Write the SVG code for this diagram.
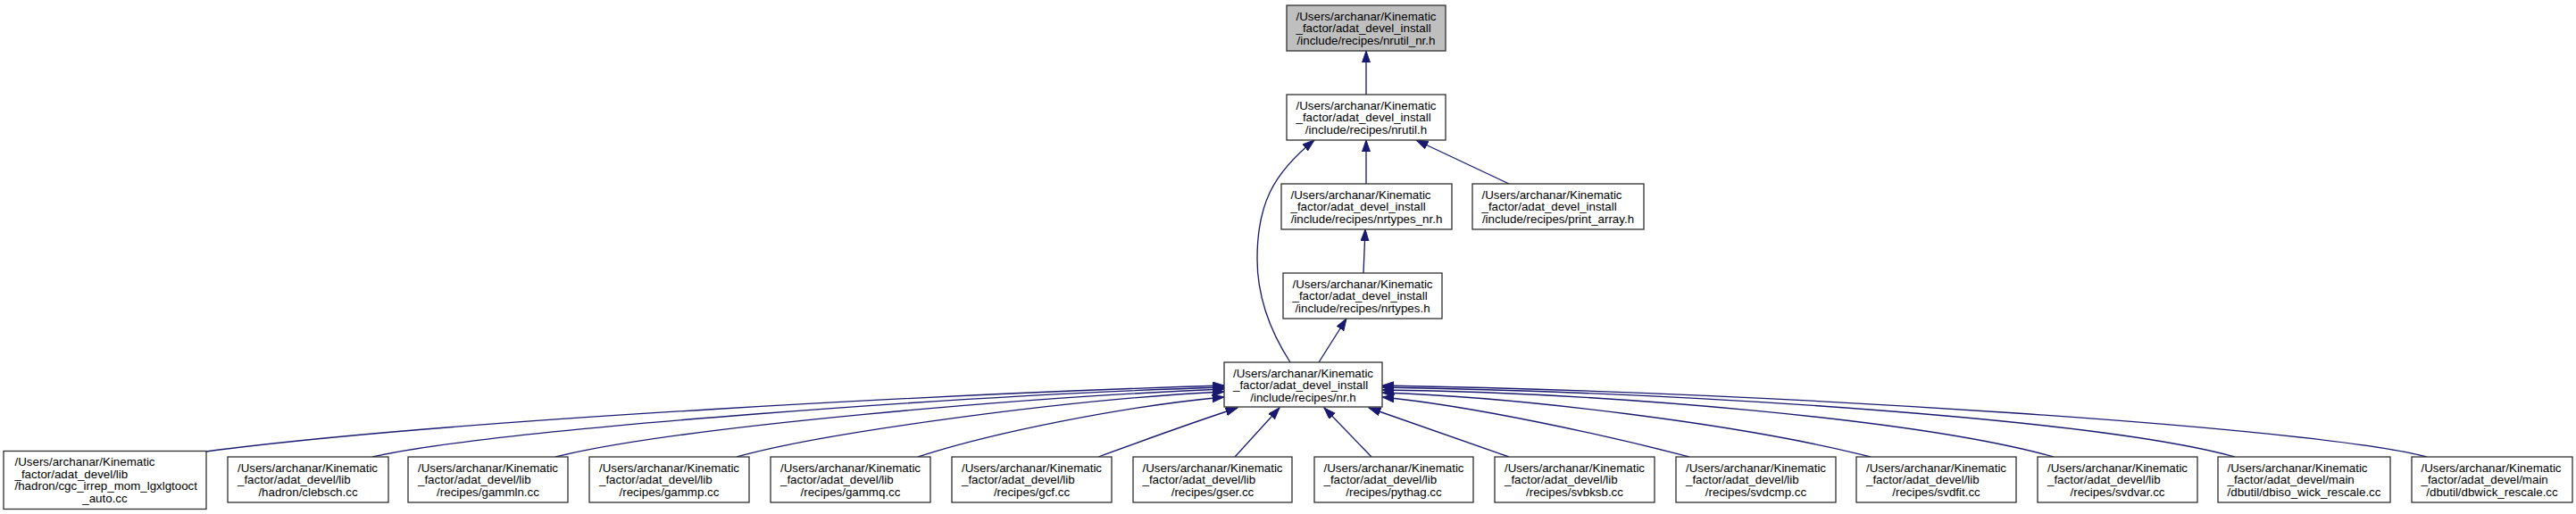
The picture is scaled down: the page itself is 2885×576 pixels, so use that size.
<svg xmlns="http://www.w3.org/2000/svg" width="2885" height="576" viewBox="0 0 2885 576">
<style>
.box{fill:#ffffff;stroke:#333333;stroke-width:1.33}
.root{fill:#bfbfbf;stroke:#333333;stroke-width:1.33}
text{font-family:"Liberation Sans",Arial,Helvetica,sans-serif;font-size:13.33px;fill:#000000}
.m{text-anchor:middle}
.edge{fill:none;stroke:#191970;stroke-width:1.33;marker-end:url(#ah)}
</style>
<defs>
<marker id="ah" markerUnits="userSpaceOnUse" markerWidth="16" markerHeight="12" refX="13.3" refY="4.6" orient="auto">
<path d="M0,0 L13.3,4.6 L0,9.2 z" fill="#191970" stroke="#191970" stroke-width="1"/>
</marker>
</defs>
<rect width="2885" height="576" fill="#ffffff"/>
<g id="connectors">
<path class="edge" d="M1530,106 L1530,57"/>
<path class="edge" d="M1530,206 L1530,157"/>
<path class="edge" d="M1690,206 L1586,157"/>
<path class="edge" d="M1445,406 C1425,375 1408,335 1408,290 C1408,230 1425,195 1472,157"/>
<path class="edge" d="M1527,306 L1529,257"/>
<path class="edge" d="M1477,406 L1508,357"/>
<path class="edge" d="M231,506 C500,470 1100,440 1371,432"/>
<path class="edge" d="M417,512 C560,480 1100,442 1371,434"/>
<path class="edge" d="M622,512 C760,478 1150,445 1371,436"/>
<path class="edge" d="M825,512 C920,485 1200,447 1371,439"/>
<path class="edge" d="M1028,512 C1110,485 1260,455 1371,445"/>
<path class="edge" d="M1230,512 C1290,490 1340,472 1386,457"/>
<path class="edge" d="M1383,512 L1433,457"/>
<path class="edge" d="M1536,512 L1483,457"/>
<path class="edge" d="M1690,512 L1533,457"/>
<path class="edge" d="M1892,512 C1800,488 1650,455 1548,445"/>
<path class="edge" d="M2095,512 C1950,475 1700,445 1548,440"/>
<path class="edge" d="M2300,512 C2150,470 1800,440 1548,437"/>
<path class="edge" d="M2503,512 C2350,470 1900,440 1548,434"/>
<path class="edge" d="M2718,512 C2600,480 2000,440 1548,432"/>
</g>
<g id="node_nrutil_nr_h">
<rect class="root" x="1441" y="6" width="178" height="51"/>
<text x="1451.5" y="22.5">/Users/archanar/Kinematic</text>
<text x="1451.5" y="36">_factor/adat_devel_install</text>
<text class="m" x="1530" y="49.5">/include/recipes/nrutil_nr.h</text>
</g>
<g id="node_nrutil_h">
<rect class="box" x="1441" y="106" width="178" height="51"/>
<text x="1451.5" y="122.5">/Users/archanar/Kinematic</text>
<text x="1451.5" y="136">_factor/adat_devel_install</text>
<text class="m" x="1530" y="149.5">/include/recipes/nrutil.h</text>
</g>
<g id="node_nrtypes_nr_h">
<rect class="box" x="1435" y="206" width="191" height="51"/>
<text x="1445.5" y="222.5">/Users/archanar/Kinematic</text>
<text x="1445.5" y="236">_factor/adat_devel_install</text>
<text class="m" x="1530.5" y="249.5">/include/recipes/nrtypes_nr.h</text>
</g>
<g id="node_print_array_h">
<rect class="box" x="1649" y="206" width="192" height="51"/>
<text x="1659.5" y="222.5">/Users/archanar/Kinematic</text>
<text x="1659.5" y="236">_factor/adat_devel_install</text>
<text class="m" x="1745" y="249.5">/include/recipes/print_array.h</text>
</g>
<g id="node_nrtypes_h">
<rect class="box" x="1437" y="306" width="178" height="51"/>
<text x="1447.5" y="322.5">/Users/archanar/Kinematic</text>
<text x="1447.5" y="336">_factor/adat_devel_install</text>
<text class="m" x="1526" y="349.5">/include/recipes/nrtypes.h</text>
</g>
<g id="node_nr_h">
<rect class="box" x="1371" y="406" width="177" height="50"/>
<text x="1381" y="422.5">/Users/archanar/Kinematic</text>
<text x="1381" y="436">_factor/adat_devel_install</text>
<text class="m" x="1459.5" y="449.5">/include/recipes/nr.h</text>
</g>
<g id="node_cgc">
<rect class="box" x="4" y="505.5" width="227" height="65"/>
<text x="16.5" y="522.3">/Users/archanar/Kinematic</text>
<text x="16.5" y="535.8">_factor/adat_devel/lib</text>
<text x="16.5" y="549.3">/hadron/cgc_irrep_mom_lgxlgtooct</text>
<text class="m" x="117.5" y="562.8">_auto.cc</text>
</g>
<g id="node_clebsch">
<rect class="box" x="255" y="512" width="180" height="51"/>
<text x="266" y="528.5">/Users/archanar/Kinematic</text>
<text x="266" y="542">_factor/adat_devel/lib</text>
<text class="m" x="345" y="555.5">/hadron/clebsch.cc</text>
</g>
<g id="node_gammln">
<rect class="box" x="457" y="512" width="179" height="51"/>
<text x="468" y="528.5">/Users/archanar/Kinematic</text>
<text x="468" y="542">_factor/adat_devel/lib</text>
<text class="m" x="546.5" y="555.5">/recipes/gammln.cc</text>
</g>
<g id="node_gammp">
<rect class="box" x="660" y="512" width="179" height="51"/>
<text x="671" y="528.5">/Users/archanar/Kinematic</text>
<text x="671" y="542">_factor/adat_devel/lib</text>
<text class="m" x="749.5" y="555.5">/recipes/gammp.cc</text>
</g>
<g id="node_gammq">
<rect class="box" x="863" y="512" width="179" height="51"/>
<text x="874" y="528.5">/Users/archanar/Kinematic</text>
<text x="874" y="542">_factor/adat_devel/lib</text>
<text class="m" x="952.5" y="555.5">/recipes/gammq.cc</text>
</g>
<g id="node_gcf">
<rect class="box" x="1066" y="512" width="179" height="51"/>
<text x="1077" y="528.5">/Users/archanar/Kinematic</text>
<text x="1077" y="542">_factor/adat_devel/lib</text>
<text class="m" x="1155.5" y="555.5">/recipes/gcf.cc</text>
</g>
<g id="node_gser">
<rect class="box" x="1269" y="512" width="178" height="51"/>
<text x="1279.5" y="528.5">/Users/archanar/Kinematic</text>
<text x="1279.5" y="542">_factor/adat_devel/lib</text>
<text class="m" x="1358" y="555.5">/recipes/gser.cc</text>
</g>
<g id="node_pythag">
<rect class="box" x="1472" y="512" width="178" height="51"/>
<text x="1482.5" y="528.5">/Users/archanar/Kinematic</text>
<text x="1482.5" y="542">_factor/adat_devel/lib</text>
<text class="m" x="1561" y="555.5">/recipes/pythag.cc</text>
</g>
<g id="node_svbksb">
<rect class="box" x="1674" y="512" width="179" height="51"/>
<text x="1685" y="528.5">/Users/archanar/Kinematic</text>
<text x="1685" y="542">_factor/adat_devel/lib</text>
<text class="m" x="1763.5" y="555.5">/recipes/svbksb.cc</text>
</g>
<g id="node_svdcmp">
<rect class="box" x="1877" y="512" width="179" height="51"/>
<text x="1888" y="528.5">/Users/archanar/Kinematic</text>
<text x="1888" y="542">_factor/adat_devel/lib</text>
<text class="m" x="1966.5" y="555.5">/recipes/svdcmp.cc</text>
</g>
<g id="node_svdfit">
<rect class="box" x="2079" y="512" width="179" height="51"/>
<text x="2090" y="528.5">/Users/archanar/Kinematic</text>
<text x="2090" y="542">_factor/adat_devel/lib</text>
<text class="m" x="2168.5" y="555.5">/recipes/svdfit.cc</text>
</g>
<g id="node_svdvar">
<rect class="box" x="2282" y="512" width="179" height="51"/>
<text x="2293" y="528.5">/Users/archanar/Kinematic</text>
<text x="2293" y="542">_factor/adat_devel/lib</text>
<text class="m" x="2371.5" y="555.5">/recipes/svdvar.cc</text>
</g>
<g id="node_dbiso">
<rect class="box" x="2484" y="512" width="193" height="51"/>
<text x="2494.5" y="528.5">/Users/archanar/Kinematic</text>
<text x="2494.5" y="542">_factor/adat_devel/main</text>
<text class="m" x="2580.5" y="555.5">/dbutil/dbiso_wick_rescale.cc</text>
</g>
<g id="node_dbwick">
<rect class="box" x="2701" y="512" width="180" height="51"/>
<text x="2711.5" y="528.5">/Users/archanar/Kinematic</text>
<text x="2711.5" y="542">_factor/adat_devel/main</text>
<text class="m" x="2791" y="555.5">/dbutil/dbwick_rescale.cc</text>
</g>
</svg>
